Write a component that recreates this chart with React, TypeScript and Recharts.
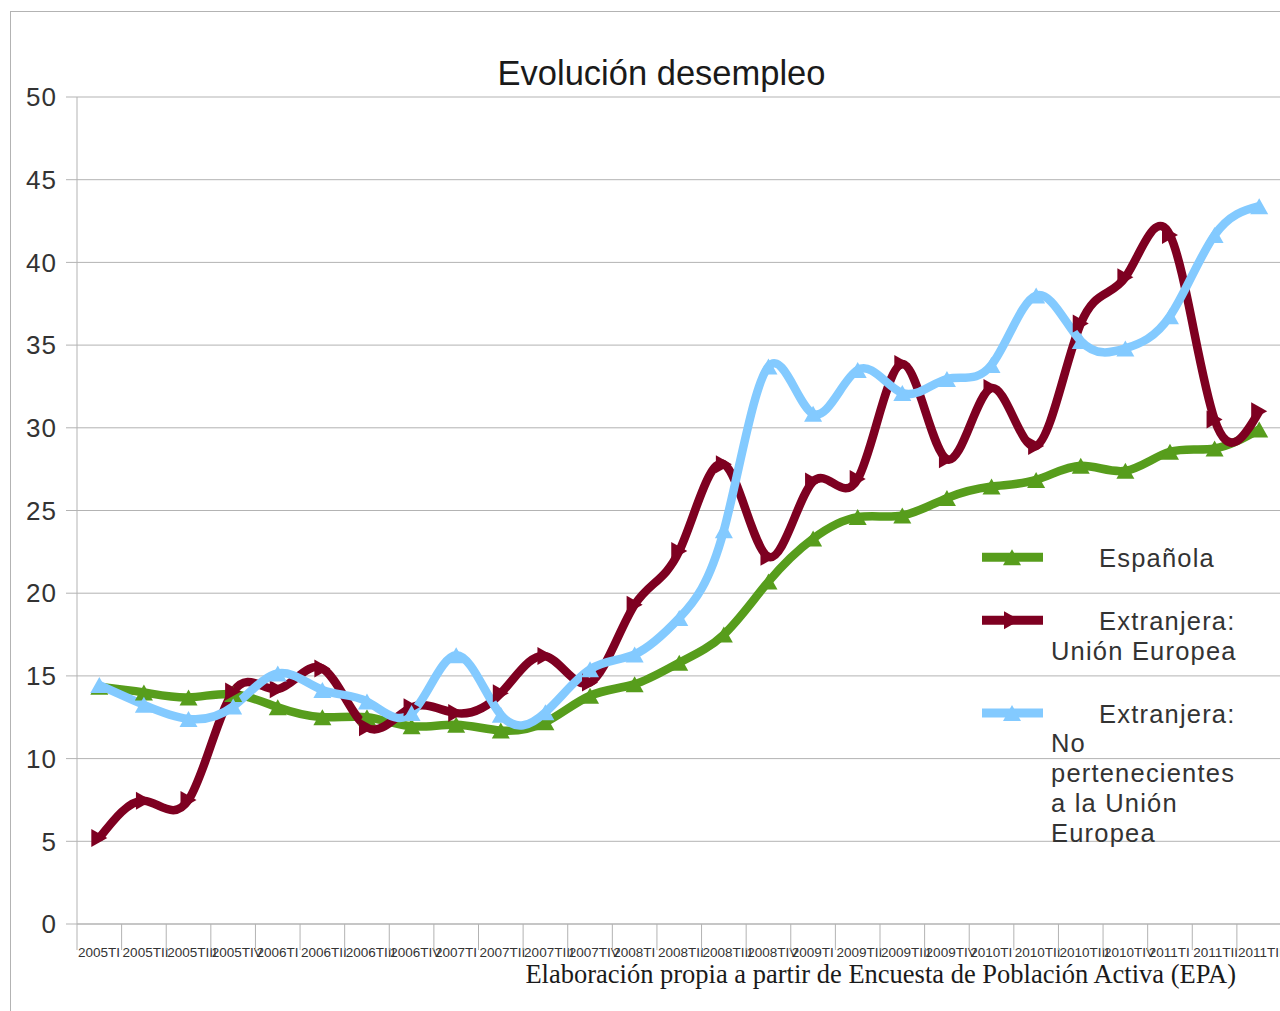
import { LineChart, Line, XAxis, YAxis, CartesianGrid } from 'recharts'

// quarters of the EPA survey
const quarters = [
  '2005TI', '2005TII', '2005TIII', '2005TIV',
  '2006TI', '2006TII', '2006TIII', '2006TIV',
  '2007TI', '2007TII', '2007TIII', '2007TIV',
  '2008TI', '2008TII', '2008TIII', '2008TIV',
  '2009TI', '2009TII', '2009TIII', '2009TIV',
  '2010TI', '2010TII', '2010TIII', '2010TIV',
  '2011TI', '2011TII', '2011TIII',
]

const espanola = [
  14.35, 14.0, 13.7, 13.9, 13.1, 12.5, 12.5, 11.95, 12.05, 11.7, 12.2, 13.8, 14.5, 15.8,
  17.5, 20.7, 23.3, 24.6, 24.7, 25.75, 26.45, 26.85, 27.7, 27.4, 28.55, 28.75, 29.9,
]

const extranjeraUE = [
  5.2, 7.45, 7.5, 14.05, 14.2, 15.45, 11.9, 13.1, 12.75, 13.95, 16.2, 14.6, 19.3, 22.55,
  27.8, 22.2, 26.75, 26.9, 33.85, 28.1, 32.4, 28.9, 36.3, 39.1, 41.65, 30.5, 31.0,
]

const extranjeraNoUE = [
  14.45, 13.25, 12.4, 13.15, 15.15, 14.15, 13.45, 12.75, 16.25, 12.65, 12.8, 15.4, 16.3, 18.5,
  23.8, 33.7, 30.85, 33.5, 32.1, 32.95, 33.8, 38.0, 35.25, 34.8, 36.75, 41.65, 43.4,
]

const yTicks = [0, 5, 10, 15, 20, 25, 30, 35, 40, 45, 50]

const legendLabels = [
  ['Española'],
  ['Extranjera:', 'Unión Europea'],
  ['Extranjera:', 'No', 'pertenecientes', 'a la Unión', 'Europea'],
]

const data = quarters.map((q, i) => ({
  q,
  esp: espanola[i],
  ue: extranjeraUE[i],
  noue: extranjeraNoUE[i],
}))

const series = [
  { key: 'esp', color: '#579d1c', marker: 'up' },
  { key: 'ue', color: '#7e0021', marker: 'right' },
  { key: 'noue', color: '#83caff', marker: 'up' },
]

const CHART_W = 1290
const CHART_H = 995
const MARGIN = { top: 89, right: 16.5, bottom: 39, left: 0 }
const Y_W = 69
const STEP = (CHART_W - MARGIN.right - MARGIN.left - Y_W) / quarters.length
const GRID = '#b3b3b3'
const SANS = '"Liberation Sans", Arial, sans-serif'

function markerPath(kind: string, cx: number, cy: number) {
  if (kind === 'right') {
    return `M${cx + 8},${cy} L${cx - 8},${cy - 9} L${cx - 8},${cy + 9} Z`
  }
  return `M${cx},${cy - 8} L${cx + 9},${cy + 8} L${cx - 9},${cy + 8} Z`
}

function makeDot(kind: string, color: string) {
  return (props: any) => {
    const { cx, cy, index } = props
    if (cx == null || cy == null) return <g key={`d-${index}`} />
    return <path key={`d-${index}`} d={markerPath(kind, cx, cy)} fill={color} />
  }
}

function QuarterTick(props: any) {
  const { x, y, payload } = props
  const bx = x - STEP / 2
  return (
    <g>
      <line x1={bx} x2={bx} y1={y} y2={y + 26} stroke={GRID} />
      <text x={bx + 1} y={y + 33} fontSize={13.5} fill="#333" textAnchor="start">
        {payload.value}
      </text>
    </g>
  )
}

function Legend() {
  let baseline = 558.7
  const items = legendLabels.map((lines, i) => {
    const s = series[i]
    const first = baseline
    const midY = first - 9.5
    const el = (
      <g key={i}>
        <line x1={974} x2={1035} y1={midY} y2={midY} stroke={s.color} strokeWidth={9} />
        <path d={markerPath(s.marker, 1004, midY)} fill={s.color} />
        {lines.map((t, j) => (
          <text key={j} x={j === 0 ? 1091 : 1043} y={first + j * 29.8} fontSize={25.5} letterSpacing={1.2} fill="#333">
            {t}
          </text>
        ))}
      </g>
    )
    baseline = first + (lines.length - 1) * 29.8 + 63
    return el
  })
  return <g>{items}</g>
}

export default function App() {
  return (
    <div style={{ position: 'fixed', left: 0, top: 0, width: 1280, height: 1011, overflow: 'hidden', fontFamily: SANS, background: '#fff' }}>
      <div style={{ position: 'absolute', left: 8, top: 8, width: 1272, height: 1003 }}>
        <div style={{ position: 'absolute', left: 2, top: 3, width: 1400, height: 1100, border: `1px solid ${GRID}` }} />
        <div style={{ position: 'absolute', left: 0, top: 0 }}>
          <LineChart width={CHART_W} height={CHART_H} data={data} margin={MARGIN}>
            <CartesianGrid horizontal vertical={false} stroke={GRID} />
            <XAxis
              dataKey="q"
              interval={0}
              height={40}
              padding={{ left: STEP / 2, right: STEP / 2 }}
              axisLine={{ stroke: GRID }}
              tickLine={false}
              tickSize={0}
              tickMargin={0}
              tick={<QuarterTick />}
            />
            <YAxis
              width={Y_W}
              domain={[0, 50]}
              ticks={yTicks}
              interval={0}
              axisLine={{ stroke: GRID }}
              tickLine={{ stroke: GRID }}
              tickSize={11}
              tickMargin={9}
              tick={{ fontSize: 26, fill: '#333', letterSpacing: 1 }}
            />
            {series.map(s => (
              <Line
                key={s.key}
                dataKey={s.key}
                type="natural"
                stroke={s.color}
                strokeWidth={8.5}
                dot={makeDot(s.marker, s.color)}
                activeDot={false}
                isAnimationActive={false}
              />
            ))}
          </LineChart>
        </div>
        <svg width={1272} height={1003} style={{ position: 'absolute', left: 0, top: 0, pointerEvents: 'none' }}>
          <text x={653.5} y={77} textAnchor="middle" fontSize={34.5} fill="#1a1a1a">
            Evolución desempleo
          </text>
          <text x={1228} y={975.3} textAnchor="end" fontSize={26.5} fill="#1a1a1a" fontFamily='"Liberation Serif", "Times New Roman", serif'>
            Elaboración propia a partir de Encuesta de Población Activa (EPA)
          </text>
          <Legend />
        </svg>
      </div>
    </div>
  )
}
